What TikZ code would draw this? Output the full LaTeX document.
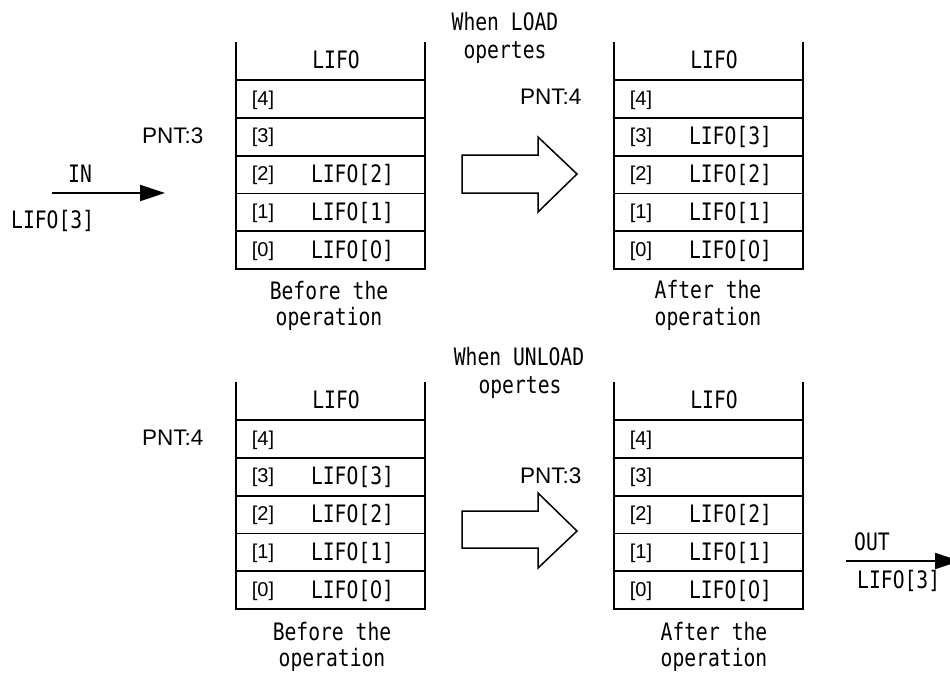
\documentclass[tikz,border=0pt]{standalone}
\usepackage{fontspec}
\usetikzlibrary{arrows.meta,calc}
\newfontfamily\monof[FakeStretch=0.82]{DejaVu Sans Mono}
\newfontfamily\plainf[FakeStretch=0.82]{DejaVu Sans}
\newfontfamily\arialf{Liberation Sans}
% plain (undotted) zero set in the monospaced cell width
\newcommand{\zr}{\makebox[\fontcharwd\font`0][c]{\plainf 0}}

\tikzset{
  cell/.style={draw, line width=1.8pt, minimum width=189pt, minimum height=37.8pt, anchor=north west, inner sep=0pt, outer sep=0pt},
  side/.style={line width=1.8pt},
  mono/.style={font=\monof\fontsize{24}{28}\selectfont, inner sep=0pt},
  idx/.style={font=\arialf\fontsize{20}{23}\selectfont, inner sep=0pt},
  pnt/.style={font=\arialf\fontsize{22.5}{26}\selectfont, inner sep=0pt, anchor=base west},
  blockarrow/.style={draw, line width=1.5pt, line join=miter},
  flow/.style={line width=2pt, -{Triangle[length=25pt,width=16pt]}},
}

\newcommand{\lifostack}[3]{%
  \node[mono, anchor=base] (#1h) at (#2+100, #3+26) {LIFO};
  \draw[side] (#2, #3) -- (#2, #3+38);
  \draw[side] (#2+189, #3) -- (#2+189, #3+38);
  \foreach \i in {4,...,0} {
    \node[cell] (#1c\i) at (#2, {#3+38+(4-\i)*37.8}) {};
  }
  \node[idx] (#1i4) at ($(#1c4.west)+(27,1)$) {[4]};
  \node[idx] (#1i3) at ($(#1c3.west)+(27,1)$) {[3]};
  \node[idx] (#1i2) at ($(#1c2.west)+(27,1)$) {[2]};
  \node[idx] (#1i1) at ($(#1c1.west)+(27,1)$) {[1]};
  \node[idx] (#1i0) at ($(#1c0.west)+(27,1)$) {[0]};
}
\newcommand{\lifoval}[3]{%
  \node[mono, anchor=base] (#1v#2) at ($(#1c#2.center)+(22,8)$) {LIFO[#3]};
}

\begin{document}
\begin{tikzpicture}[x=1pt,y=-1pt]
\useasboundingbox (0,0) rectangle (950,673);

% stacks
\lifostack{a}{236}{42}
\lifostack{b}{614}{42}
\lifostack{c}{236}{382}
\lifostack{d}{614}{382}

\lifoval{a}{2}{2}\lifoval{a}{1}{1}\lifoval{a}{0}{\zr}
\lifoval{b}{3}{3}\lifoval{b}{2}{2}\lifoval{b}{1}{1}\lifoval{b}{0}{\zr}
\lifoval{c}{3}{3}\lifoval{c}{2}{2}\lifoval{c}{1}{1}\lifoval{c}{0}{\zr}
\lifoval{d}{2}{2}\lifoval{d}{1}{1}\lifoval{d}{0}{\zr}

% captions
\node[mono, anchor=base] (acap1) at (329,299) {Before the};
\node[mono, anchor=base] (acap2) at (329,325) {operation};
\node[mono, anchor=base] (bcap1) at (708,298) {After the};
\node[mono, anchor=base] (bcap2) at (708,325) {operation};
\node[mono, anchor=base] (ccap1) at (332,640) {Before the};
\node[mono, anchor=base] (ccap2) at (332,666) {operation};
\node[mono, anchor=base] (dcap1) at (714,640) {After the};
\node[mono, anchor=base] (dcap2) at (714,666) {operation};

% operation titles
\node[mono, anchor=base] (load1) at (505,30) {When LOAD};
\node[mono, anchor=base] (load2) at (505,58) {opertes};
\node[mono, anchor=base] (unload1) at (519,365) {When UNLOAD};
\node[mono, anchor=base] (unload2) at (520,393) {opertes};

% pointers
\node[pnt] (pnt1) at (142,143) {PNT:3};
\node[pnt] (pnt2) at (520,104) {PNT:4};
\node[pnt] (pnt3) at (142,445) {PNT:4};
\node[pnt] (pnt4) at (520,483) {PNT:3};

% block arrows
\draw[blockarrow] (462,155) -- (538,155) -- (538,137) -- (577,174) -- (538,212) -- (538,193) -- (462,193) -- cycle;
\draw[blockarrow] (462,511) -- (538,511) -- (538,493) -- (577,531) -- (538,568) -- (538,548) -- (462,548) -- cycle;

% IN arrow
\coordinate (inS) at (52,193);
\coordinate (inE) at (165,193);
\draw[flow] (inS) -- (inE);
\node[mono, anchor=base] (inlbl) at (80,182) {IN};
\node[mono, anchor=base west] (inval) at (11,228) {LIFO[3]};

% OUT arrow
\coordinate (outS) at (846,561);
\coordinate (outE) at (960,561);
\draw[flow] (outS) -- (outE);
\node[mono, anchor=base west] (outlbl) at (854,550) {OUT};
\node[mono, anchor=base west] (outval) at (857,588) {LIFO[3]};
\end{tikzpicture}
\end{document}
